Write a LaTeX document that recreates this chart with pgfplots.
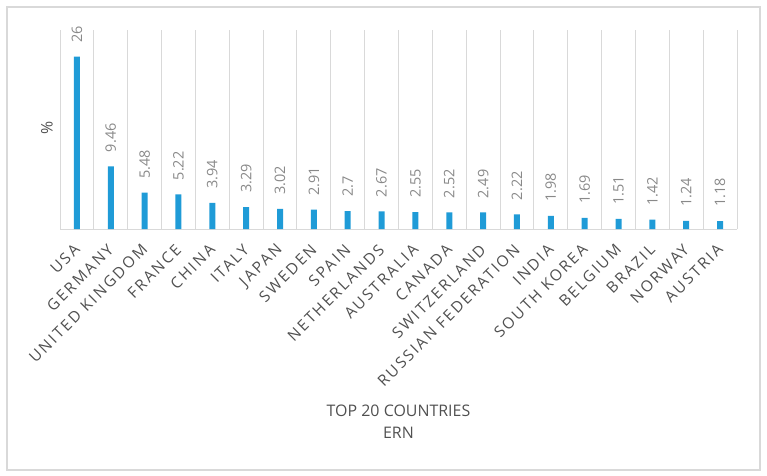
\documentclass[border=0pt]{standalone}
\usepackage{fontspec}
\setmainfont{Open Sans}
\newfontfamily\spaced[LetterSpace=14]{Open Sans}
\usepackage{pgfplots}
\pgfplotsset{compat=1.18}
\definecolor{barblue}{RGB}{31,155,215}
\definecolor{gridgray}{RGB}{217,217,217}
\definecolor{valgray}{RGB}{137,137,137}
\definecolor{labgray}{RGB}{80,80,80}
\begin{document}
\begin{tikzpicture}
\begin{axis}[
  at={(0,0)}, anchor=south west,
  scale only axis,
  width=677bp, height=199bp,
  xmin=-0.5, xmax=19.5, ymin=0, ymax=30,
  ybar, bar width=6bp,
  axis x line*=bottom, axis y line*=left,
  x axis line style={draw=gridgray, line width=1pt, -},
  y axis line style={draw=none},
  ytick=\empty,
  xtick={0,...,19},
  xticklabels={USA,GERMANY,UNITED KINGDOM,FRANCE,CHINA,ITALY,JAPAN,SWEDEN,SPAIN,NETHERLANDS,AUSTRALIA,CANADA,SWITZERLAND,RUSSIAN FEDERATION,INDIA,SOUTH KOREA,BELGIUM,BRAZIL,NORWAY,AUSTRIA},
  xticklabel style={xshift=0bp, yshift=-18bp, rotate=45, anchor=east, inner sep=0pt, font=\spaced\fontsize{15.5}{18}\selectfont, text=labgray},
  minor xtick={-0.5,0.5,...,19.5},
  xminorgrids=true,
  minor grid style={draw=gridgray, line width=1pt},
  major tick length=0pt, minor tick length=0pt,
  nodes near coords,
  point meta=explicit symbolic,
  every node near coord/.append style={rotate=90, anchor=west, inner sep=0pt, xshift=14bp, font=\fontsize{14.5}{16}\selectfont, text=valgray},
  clip=false,
]
\addplot[fill=barblue, draw=none] table[meta=v] {
x y v
0 26 26
1 9.46 9.46
2 5.48 5.48
3 5.22 5.22
4 3.94 3.94
5 3.29 3.29
6 3.02 3.02
7 2.91 2.91
8 2.7 2.7
9 2.67 2.67
10 2.55 2.55
11 2.52 2.52
12 2.49 2.49
13 2.22 2.22
14 1.98 1.98
15 1.69 1.69
16 1.51 1.51
17 1.42 1.42
18 1.24 1.24
19 1.18 1.18
};
\end{axis}
\node[rotate=90, text=labgray, font=\fontsize{16}{18}\selectfont] at (-13bp,101bp) {\%};
\node[align=center, text=labgray, font=\fontsize{16}{22}\selectfont] at (338.5bp,-193bp) {TOP 20 COUNTRIES\\ERN};
\draw[gridgray, line width=1.2pt] (-53bp,-241bp) rectangle (700bp,222bp);
\pgfresetboundingbox
\useasboundingbox (-60bp,-247bp) rectangle (707bp,229bp);
\end{tikzpicture}
\end{document}
